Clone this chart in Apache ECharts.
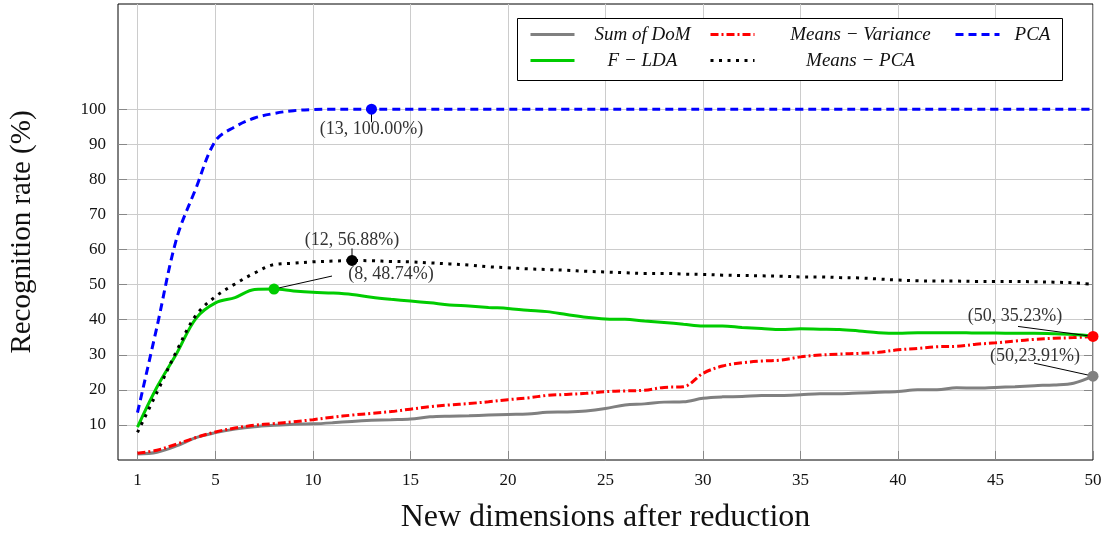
<!DOCTYPE html>
<html><head><meta charset="utf-8">
<script src="https://cdn.jsdelivr.net/npm/echarts@6/dist/echarts.min.js"></script>
<style>html,body{margin:0;padding:0;background:#fff}#c{width:1115px;height:541px}</style>
</head><body><div id="c"></div>
<script>
const dims = [1,2,3,4,5,6,7,8,9,10,11,12,13,14,15,16,17,18,19,20,21,22,23,24,25,26,27,28,29,30,31,32,33,34,35,36,37,38,39,40,41,42,43,44,45,46,47,48,49,50];
const xTicks = [1,5,10,15,20,25,30,35,40,45,50];
const yTicks = [10,20,30,40,50,60,70,80,90,100];

const sumDoM = [1.7,2.2,4.0,6.4,7.8,8.8,9.5,9.9,10.2,10.3,10.6,11.0,11.3,11.5,11.7,12.3,12.5,12.6,12.8,13.0,13.1,13.6,13.7,14.0,14.7,15.7,16.0,16.5,16.6,17.6,18.0,18.1,18.4,18.4,18.6,18.9,18.9,19.1,19.3,19.5,20.0,20.0,20.6,20.5,20.7,20.9,21.2,21.4,21.9,23.91];
const meansVariance = [1.9,2.8,4.5,6.4,8.0,9.1,9.9,10.4,10.9,11.5,12.2,12.8,13.3,13.8,14.5,15.2,15.7,16.1,16.6,17.2,17.7,18.4,18.7,19.0,19.5,19.7,19.9,20.7,20.9,24.7,26.8,27.7,28.2,28.5,29.4,29.9,30.2,30.4,30.7,31.4,31.8,32.3,32.4,33.0,33.4,33.9,34.4,34.7,34.9,35.23];
const pca = [13.5,38.0,63.0,77.5,91.0,95.0,97.5,98.8,99.6,99.9,100,100,100,100,100,100,100,100,100,100,100,100,100,100,100,100,100,100,100,100,100,100,100,100,100,100,100,100,100,100,100,100,100,100,100,100,100,100,100,100];
const fLDA = [9.4,20.8,30.3,40.4,44.8,46.3,48.6,48.74,48.2,47.8,47.6,47.2,46.4,45.8,45.3,44.8,44.2,43.9,43.5,43.2,42.7,42.3,41.5,40.7,40.2,40.1,39.6,39.2,38.7,38.2,38.2,37.8,37.5,37.2,37.4,37.3,37.2,36.8,36.3,36.1,36.3,36.3,36.3,36.2,36.2,36.1,36.1,36.0,35.8,35.4];
const meansPCA = [7.9,19.3,31.0,41.3,46.6,50.2,53.3,55.7,56.1,56.5,56.7,56.88,56.8,56.6,56.5,56.2,55.9,55.6,55.1,54.8,54.5,54.3,54.1,53.8,53.6,53.4,53.2,53.2,53.0,52.9,52.7,52.6,52.5,52.4,52.2,52.2,52.0,51.9,51.6,51.3,51.1,51.0,51.0,50.9,50.9,50.9,50.8,50.7,50.5,50.1];

const seriesNames = ['Sum of DoM','Means − Variance','PCA','F − LDA','Means − PCA'];
// annotated points: [x, y] taken from the series arrays
const annPoints = [[13, pca[12]], [12, meansPCA[11]], [8, fLDA[7]], [50, meansVariance[49]], [50, sumDoM[49]]];
const annTexts = ['(13, 100.00%)','(12, 56.88%)','(8, 48.74%)','(50, 35.23%)','(50,23.91%)'];

// styling / layout (kept apart from data)
const annLayout = [
  {color:'#0000ff', pin:[0,13],    text:[0,20]},
  {color:'#000000', pin:[0,-12],   text:[0,-20]},
  {color:'#00cc00', pin:[58,-13],  text:[117,-15]},
  {color:'#ff0000', pin:[-75,-10], text:[-78,-20]},
  {color:'#808080', pin:[-59,-13], text:[-58,-20]}
];
const serif = '"Liberation Serif", "DejaVu Serif", serif';

function pts(v){ return dims.map((d,i)=>[d, v[i]]); }
function lineSeries(name, vals, color, type){
  return {name, type:'line', data:pts(vals), symbol:'none', smooth:0.35, z:3,
    lineStyle:{color, width:3, type, cap:'butt'}, itemStyle:{color}};
}

const legendCols = [
  {name:'Sum of DoM', left:529, top:25, w:126},
  {name:'Means − Variance', left:709, top:25, w:202},
  {name:'PCA', left:954, top:25, w:56},
  {name:'F − LDA', left:529, top:51, w:126},
  {name:'Means − PCA', left:709, top:51, w:202}
];

const chart = echarts.init(document.getElementById('c'), null, {renderer:'canvas'});
chart.setOption({
  animation:false,
  backgroundColor:'#fff',
  grid:{left:118, right:22, top:4, bottom:81, show:true, borderColor:'#000', borderWidth:1, backgroundColor:'transparent'},
  xAxis:{type:'value', min:0, max:50,
    name:'New dimensions after reduction', nameLocation:'middle', nameGap:42,
    nameTextStyle:{fontFamily:serif, fontSize:32, color:'#111'},
    axisLine:{show:false},
    axisTick:{show:true, inside:true, length:9, customValues:xTicks, lineStyle:{color:'#888'}},
    axisLabel:{customValues:xTicks, margin:12, fontFamily:serif, fontSize:17, color:'#111'},
    splitLine:{show:true, customValues:xTicks, lineStyle:{color:'#cccccc', width:1}}
  },
  yAxis:[{type:'value', min:0, max:130,
    name:'Recognition rate (%)', nameLocation:'middle', nameGap:81,
    nameTextStyle:{fontFamily:serif, fontSize:29, color:'#111'},
    axisLine:{show:false},
    axisTick:{show:true, inside:true, length:9, customValues:yTicks, lineStyle:{color:'#888'}},
    axisLabel:{customValues:yTicks, margin:12, fontFamily:serif, fontSize:17, color:'#111'},
    splitLine:{show:true, customValues:yTicks, lineStyle:{color:'#cccccc', width:1}}
  },{type:'value', min:0, max:130, position:'right',
    axisLine:{show:false},
    axisTick:{show:true, inside:true, length:9, customValues:yTicks, lineStyle:{color:'#888'}},
    axisLabel:{show:false}, splitLine:{show:false}
  }],
  legend: legendCols.map(c=>({
    data:[c.name], left:c.left, top:c.top, padding:0, itemWidth:44, itemHeight:14,
    selectedMode:false, z:20,
    itemStyle:{opacity:0},
    lineStyle:{width:3},
    formatter: n => '{t|' + n + '}',
    textStyle:{rich:{t:{width:c.w, align:'center', fontStyle:'italic', fontFamily:serif, fontSize:19, lineHeight:20, color:'#111'}}}
  })),
  graphic:[{type:'rect', z:10, shape:{x:517.5, y:18.5, width:545, height:62},
    style:{fill:'#fff', stroke:'#000', lineWidth:1}}],
  series:[
    lineSeries(seriesNames[0], sumDoM, '#808080', 'solid'),
    lineSeries(seriesNames[1], meansVariance, '#ff0000', [8,3,2,3]),
    lineSeries(seriesNames[2], pca, '#0000ff', [8,5]),
    lineSeries(seriesNames[3], fLDA, '#00cc00', 'solid'),
    lineSeries(seriesNames[4], meansPCA, '#000000', [3,5.5]),
    {type:'custom', name:'annotations', z:6, clip:false, data:annPoints, encode:{x:0, y:1},
     renderItem:(params, api)=>{
       const i = params.dataIndex;
       const p = api.coord([api.value(0), api.value(1)]);
       const L = annLayout[i];
       return {type:'group', children:[
         {type:'line', shape:{x1:p[0], y1:p[1], x2:p[0]+L.pin[0], y2:p[1]+L.pin[1]}, style:{stroke:'#000', lineWidth:1}},
         {type:'circle', shape:{cx:p[0], cy:p[1], r:5.5}, style:{fill:L.color}},
         {type:'text', x:p[0]+L.text[0], y:p[1]+L.text[1],
          style:{text:annTexts[i], fill:'#333', font:'18px ' + serif, align:'center', verticalAlign:'middle'}}
       ]};
     }}
  ]
});
</script></body></html>
